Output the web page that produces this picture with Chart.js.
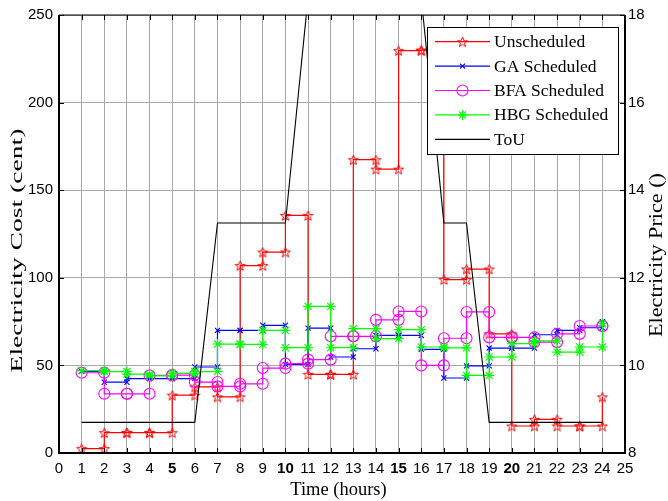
<!DOCTYPE html>
<html><head><meta charset="utf-8">
<script src="https://cdn.jsdelivr.net/npm/chart.js@4/dist/chart.umd.min.js"></script>
<style>html,body{margin:0;padding:0;background:#fff}#wrap{width:668px;height:501px}</style>
</head><body><div id="wrap"><canvas id="c" width="668" height="501"></canvas></div>
<script>
const hours = [1,2,3,4,5,6,7,8,9,10,11,12,13,14,15,16,17,18,19,20,21,22,23,24];
const xTickLabels = ['0','1','2','3','4','5','6','7','8','9','10','11','12','13','14','15','16','17','18','19','20','21','22','23','24','25'];
const costTicks = [0,50,100,150,200,250];
const priceTicks = [8,10,12,14,16,18];
const seriesNames = ['Unscheduled','GA Scheduled','BFA Scheduled','HBG Scheduled','ToU'];
const unscheduled = [2.5,11.6,11.6,11.6,33,37.7,32,107,114.7,135.6,44.9,44.9,167.4,162,229.7,230,99,105,68,15.4,19.2,15.4,15.4,32];
const gaScheduled = [46.6,40.4,42.5,42.5,42.5,49.1,70,70,72.9,50.6,71.3,54.8,59.5,67.1,67.1,59.2,42.8,49.7,59.9,59.9,67.5,70,71.5,75];
const bfaScheduled = [45.8,33.8,33.8,44.3,44.5,40.5,38,39.5,48.5,51,53.3,66.6,66.6,76,80.8,50,65.5,80.5,66,66,63.3,68,72.5,72.5];
const hbgScheduled = [47,46.5,45,44,45.5,46.5,62.2,62,70,60.1,83.7,60.1,71,65.3,70.4,60.5,60,44.3,54.8,62.4,64,57.6,60.5,73.8];
const touPrice = [8.7,8.7,8.7,8.7,8.7,8.7,13.25,13.25,13.25,13.25,18.4,18.4,18.4,18.4,18.4,18.4,13.25,13.25,8.7,8.7,8.7,8.7,8.7,8.7];

function stairs(vals){
  const pts=[];
  for(let i=0;i<vals.length;i++){
    pts.push({x:hours[i],y:vals[i]});
    if(i<vals.length-1) pts.push({x:hours[i+1],y:vals[i]});
  }
  return pts;
}
function starImage(color,r){
  const s=Math.ceil(r*2+4);
  const c=document.createElement('canvas'); c.width=s; c.height=s;
  const g=c.getContext('2d'); g.strokeStyle=color; g.lineWidth=1;
  g.beginPath();
  for(let k=0;k<10;k++){
    const rad=k%2===0?r:r*0.42;
    const a=-Math.PI/2+k*Math.PI/5;
    const px=s/2+rad*Math.cos(a), py=s/2+0.6+rad*Math.sin(a);
    if(k) g.lineTo(px,py); else g.moveTo(px,py);
  }
  g.closePath(); g.stroke();
  return c;
}
const redStar = starImage('#ff0000',5.2);

const styles = [
  {color:'#ff0000', pointStyle:redStar, radius:5.5},
  {color:'#0000ff', pointStyle:'crossRot', radius:3.6},
  {color:'#ff00ff', pointStyle:'circle', radius:5.5},
  {color:'#00ff00', pointStyle:'star', radius:5},
  {color:'#000000', pointStyle:false, radius:0}
];
const seriesData = [unscheduled, gaScheduled, bfaScheduled, hbgScheduled];

const datasets = seriesData.map((vals,i)=>({
  label: seriesNames[i],
  data: stairs(vals),
  borderColor: styles[i].color,
  backgroundColor: 'rgba(0,0,0,0)',
  pointBorderColor: styles[i].color,
  pointBackgroundColor: 'rgba(0,0,0,0)',
  pointStyle: styles[i].pointStyle,
  pointRadius: styles[i].radius,
  pointBorderWidth: 1.1,
  borderWidth: 1.2,
  yAxisID: 'y',
  order: 5-i
}));
datasets.push({
  label: seriesNames[4],
  data: hours.map((h,i)=>({x:h,y:touPrice[i]})),
  borderColor: '#000000',
  backgroundColor: 'rgba(0,0,0,0)',
  pointRadius: 0,
  borderWidth: 1.1,
  yAxisID: 'y2',
  order: 0
});

const decor = {
  id:'decor',
  afterDatasetsDraw(chart){
    const ctx=chart.ctx; const {left,right,top,bottom}=chart.chartArea;
    ctx.save();
    ctx.strokeStyle='#000';
    ctx.lineWidth=1;
    ctx.beginPath();
    chart.scales.x.ticks.forEach(t=>{
      const px=Math.round(chart.scales.x.getPixelForValue(t.value))+0.5;
      ctx.moveTo(px,bottom); ctx.lineTo(px,bottom-5);
      ctx.moveTo(px,top); ctx.lineTo(px,top+5);
    });
    chart.scales.y.ticks.forEach(t=>{
      const py=Math.round(chart.scales.y.getPixelForValue(t.value))+0.5;
      ctx.moveTo(left,py); ctx.lineTo(left+5,py);
    });
    chart.scales.y2.ticks.forEach(t=>{
      const py=Math.round(chart.scales.y2.getPixelForValue(t.value))+0.5;
      ctx.moveTo(right,py); ctx.lineTo(right-5,py);
    });
    ctx.stroke();
    ctx.lineWidth=2;
    ctx.beginPath();
    ctx.moveTo(left,top); ctx.lineTo(left,bottom); ctx.lineTo(right,bottom); ctx.lineTo(right,top);
    ctx.stroke();
    ctx.lineWidth=1.2;
    ctx.beginPath(); ctx.moveTo(left,top); ctx.lineTo(right,top); ctx.stroke();
    ctx.restore();
  },
  afterDraw(chart){
    const ctx=chart.ctx;
    ctx.save();
    const bx=427.5, by=27.5, bw=191, bh=127;
    ctx.fillStyle='#fff'; ctx.fillRect(bx,by,bw,bh);
    ctx.strokeStyle='#000'; ctx.lineWidth=1; ctx.strokeRect(bx,by,bw,bh);
    ctx.font='17.5px "Liberation Serif"'; ctx.textBaseline='middle'; ctx.textAlign='left';
    seriesNames.forEach((name,i)=>{
      const y=41.7+i*24.4;
      ctx.strokeStyle=styles[i].color; ctx.lineWidth=1.2;
      ctx.beginPath(); ctx.moveTo(435,y); ctx.lineTo(490,y); ctx.stroke();
      if(styles[i].pointStyle){
        ctx.fillStyle='rgba(0,0,0,0)'; ctx.lineWidth=1.1;
        Chart.helpers.drawPoint(ctx,{pointStyle:styles[i].pointStyle,radius:styles[i].radius,rotation:0,borderWidth:1.1},462.5,y);
      }
      ctx.fillStyle='#000';
      ctx.fillText(name,494,y+1);
    });
    ctx.fillStyle='#000'; ctx.textAlign='center'; ctx.textBaseline='middle';
    ctx.font='18.5px "Liberation Serif"';
    ctx.fillText('Time (hours)',338.5,490);
    const drawV=(text,cx,cy,size,len)=>{
      ctx.save(); ctx.font=size+'px "Liberation Serif"';
      const w=ctx.measureText(text).width;
      ctx.translate(cx,cy); ctx.rotate(-Math.PI/2); ctx.scale(len/w,1);
      ctx.fillText(text,0,0); ctx.restore();
    };
    drawV('Electricity Cost (cent)',17.5,250.5,17,244);
    drawV('Electricity Price ()',657,255,18,164);
    ctx.restore();
  }
};

const gridColor='#a8a8a8';
new Chart(document.getElementById('c'),{
  type:'line',
  data:{datasets},
  options:{
    responsive:false, animation:false, events:[],
    layout:{padding:{top:14,left:0,right:0,bottom:0}},
    plugins:{legend:{display:false}, tooltip:{enabled:false}, title:{display:false}},
    elements:{line:{tension:0,fill:false}},
    scales:{
      x:{type:'linear',position:'bottom',min:0,max:25,
        afterBuildTicks:s=>{s.ticks=xTickLabels.map(v=>({value:Number(v)}));},
        ticks:{autoSkip:false,maxRotation:0,padding:7,color:'#000',
          callback:(v)=>xTickLabels[v],
          font:(c)=>({family:'Liberation Sans',size:15,weight:(c.tick&&[5,10,15,20].includes(c.tick.value))?'bold':'normal'})},
        grid:{color:gridColor,lineWidth:1,drawTicks:false},
        border:{display:false},
        afterFit:s=>{s.height=48;}
      },
      y:{type:'linear',position:'left',min:0,max:250,
        afterBuildTicks:s=>{s.ticks=costTicks.map(v=>({value:v}));},
        ticks:{padding:6,color:'#000',font:{family:'Liberation Sans',size:15}},
        grid:{color:gridColor,lineWidth:1,drawTicks:false},
        border:{display:false},
        afterFit:s=>{s.width=59;}
      },
      y2:{type:'linear',position:'right',min:8,max:18,
        afterBuildTicks:s=>{s.ticks=priceTicks.map(v=>({value:v}));},
        ticks:{padding:3,color:'#000',font:{family:'Liberation Sans',size:15}},
        grid:{display:false,drawTicks:false},
        border:{display:false},
        afterFit:s=>{s.width=43;}
      }
    }
  },
  plugins:[decor]
});
</script>
</body></html>
